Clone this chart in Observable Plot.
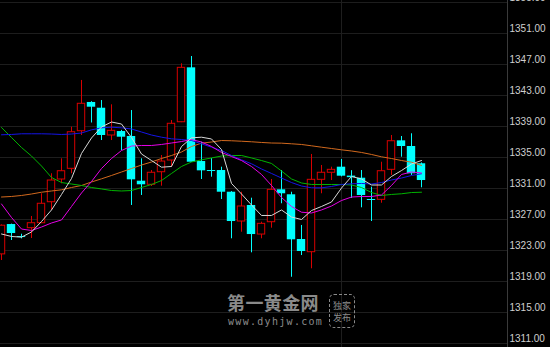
<!DOCTYPE html>
<html><head><meta charset="utf-8">
<script src="https://cdn.jsdelivr.net/npm/d3@7"></script>
<script src="https://cdn.jsdelivr.net/npm/@observablehq/plot@0.6"></script>
<style>
html,body{margin:0;padding:0;background:#000;}
#wrap{position:relative;width:550px;height:347px;overflow:hidden;background:#000;}
.wm{position:absolute;color:#8a8a8a;font-family:"Noto Sans CJK SC",sans-serif;white-space:nowrap;line-height:1;}
</style></head><body><div id="wrap"></div>
<script>
const openP  = [1322.5,1326.35,1324.8,1325.88,1326.52,1329.23,1332.16,1333.54,1338.39,1342.1,1341.36,1337.84,1338.35,1337.71,1331.94,1331.48,1333.1,1334.61,1339.55,1346.57,1334.48,1333.32,1333.32,1330.52,1326.74,1328.81,1325.06,1326.65,1330.83,1330.19,1324.42,1322.78,1332.12,1333.03,1333.75,1332.6,1332.33,1329.58,1329.54,1333.41,1337.15,1336.42,1334.19];
const highP  = [1326.3,1326.4,1325.1,1327.39,1330.32,1332.9,1334.83,1338.91,1344.94,1342.2,1342.35,1341.8,1338.5,1341.06,1334.83,1333.32,1335.26,1339.77,1347.09,1348.03,1336.97,1334.87,1333.75,1330.6,1330.52,1329.75,1326.65,1332.16,1333.32,1330.52,1326.23,1335.39,1333.97,1333.75,1334.74,1333.3,1333.32,1331.17,1334.39,1337.84,1337.71,1338.06,1334.3];
const lowP   = [1321.71,1324.29,1324.5,1324.55,1326.5,1328.16,1331.61,1332.9,1337.84,1339.45,1337.19,1337.19,1335.9,1328.81,1330.1,1331.26,1331.3,1333.75,1339.5,1334.4,1332.16,1332.46,1329.58,1324.51,1325.36,1322.7,1324.51,1325.88,1329.03,1319.55,1322.35,1320.64,1330.32,1332.03,1332.5,1329.71,1328.51,1326.74,1329.1,1332.68,1335.04,1332.68,1331.09];
const closeP = [1326.2,1325.19,1324.8,1326.52,1329.03,1332.03,1333.23,1338.26,1341.93,1341.49,1337.84,1338.44,1337.62,1332.12,1331.48,1333.03,1334.48,1339.35,1346.57,1334.39,1333.28,1333.32,1330.52,1326.74,1328.68,1325.06,1326.44,1330.83,1330.32,1324.38,1322.87,1332.12,1333.03,1333.41,1332.59,1332.4,1330.1,1329.58,1333.23,1337.1,1336.42,1332.9,1332.03];

const maWhite   = [1325.13,1324.81,1324.72,1325.39,1326.74,1328.23,1330.23,1332.29,1335.52,1337.52,1338.94,1339.58,1339.32,1337.58,1335.45,1334.61,1333.75,1333.84,1336.42,1337.54,1337.62,1337.39,1336.03,1331.65,1330.29,1328.87,1327.52,1327.52,1328.23,1327.32,1327.0,1328.16,1328.68,1329.26,1331.06,1332.55,1332.23,1331.45,1331.45,1332.55,1333.32,1334.16,1334.61];
const maMagenta = [1329.0,1327.26,1325.77,1325.58,1326.03,1326.55,1326.94,1328.68,1330.42,1331.9,1333.58,1334.87,1335.9,1336.48,1336.55,1336.55,1336.68,1336.87,1337.06,1337.32,1337.0,1336.42,1335.65,1335.13,1334.61,1333.84,1332.81,1331.39,1329.84,1328.68,1327.94,1327.84,1328.23,1328.74,1329.45,1329.9,1329.97,1329.97,1330.16,1331.39,1332.81,1333.13,1333.0];
const maGreen   = [1338.87,1337.58,1336.29,1335.19,1333.9,1332.42,1331.77,1331.58,1331.39,1331.13,1330.94,1330.74,1330.68,1330.74,1331.13,1331.52,1332.03,1332.94,1333.84,1334.42,1334.7,1334.94,1335.19,1335.26,1335.26,1334.94,1334.61,1334.23,1333.26,1332.23,1331.71,1331.52,1331.52,1331.52,1331.52,1331.45,1331.13,1330.48,1330.1,1330.23,1330.32,1330.48,1330.52];
const maBlue    = [1337.93,1337.97,1338.06,1338.06,1338.06,1338.03,1337.97,1338.03,1338.16,1338.57,1338.83,1338.91,1338.83,1338.68,1338.29,1337.9,1337.62,1337.41,1337.32,1337.19,1336.77,1336.33,1335.9,1335.26,1334.7,1334.19,1333.52,1332.94,1332.35,1331.77,1331.32,1331.09,1331.09,1331.26,1331.52,1331.61,1331.65,1331.58,1331.77,1332.1,1332.35,1332.68,1332.9];
const maOrange  = [1329.9,1329.97,1330.1,1330.29,1330.52,1330.68,1330.83,1331.13,1331.39,1331.84,1332.25,1332.68,1333.13,1333.58,1334.03,1334.42,1334.87,1335.26,1335.71,1336.42,1336.85,1337.0,1337.19,1337.16,1337.1,1337.03,1336.94,1336.87,1336.85,1336.77,1336.68,1336.51,1336.33,1336.16,1335.99,1335.84,1335.65,1335.39,1335.09,1334.87,1334.61,1334.39,1333.97];

const yTicks = [1311,1315,1319,1323,1327,1331,1335,1339,1343,1347,1351,1355];
const sessionBreaks = [34];

const UP = "#d80000", DOWN = "#00ffff";
const candles = openP.map((o, i) => ({i, o, h: highP[i], l: lowP[i], c: closeP[i]}));
const isDoji = d => Math.abs(d.c - d.o) < 0.05;
const upC = candles.filter(d => d.c > d.o && !isDoji(d));
const downC = candles.filter(d => d.c < d.o && !isDoji(d));
const dojiC = candles.filter(isDoji);

const lines = [
  {v: maOrange, color: "#d2691e"},
  {v: maGreen, color: "#00b400"},
  {v: maBlue, color: "#1414e6"},
  {v: maMagenta, color: "#e600e6"},
  {v: maWhite, color: "#d8d8d8"}
];

const chart = Plot.plot({
  width: 550, height: 347,
  marginLeft: 0, marginRight: 43, marginTop: 0, marginBottom: 0,
  style: {background: "#000", color: "#cccccc", fontFamily: "Liberation Sans, Arial, sans-serif", fontSize: "10px", overflow: "hidden"},
  x: {domain: [-0.1, 50.6], axis: null},
  y: {domain: [1310.484, 1355.258]},
  marks: [
    Plot.ruleY(yTicks, {stroke: "#1e1e1e"}),
    Plot.ruleX(sessionBreaks, {stroke: "#1e1e1e"}),
    Plot.ruleX(candles, {x: "i", y1: "l", y2: "h", stroke: d => d.c > d.o ? UP : DOWN, strokeWidth: 1}),
    Plot.rect(downC, {x1: d => d.i - 0.42, x2: d => d.i + 0.42, y1: "o", y2: "c", fill: DOWN}),
    Plot.rect(upC, {x1: d => d.i - 0.37, x2: d => d.i + 0.37, y1: "o", y2: "c", fill: "#000", stroke: UP, strokeWidth: 1}),
    Plot.ruleY(dojiC, {y: "o", x1: d => d.i - 0.42, x2: d => d.i + 0.42, stroke: DOWN}),
    ...lines.map(L => Plot.line(L.v, {x: (d, i) => i, y: d => d, stroke: L.color, strokeWidth: 1})),
    Plot.frame({anchor: "right", stroke: "#3a3a3a"}),
    Plot.axisY(yTicks, {anchor: "right", tickSize: 0, tickPadding: 2, dy: -5, tickFormat: d => d.toFixed(2), fill: "#cfcfcf", fontSize: 10})
  ]
});
const wrap = document.getElementById("wrap");
wrap.appendChild(chart);

const wm = [
  {t: "第一黄金网", x: 227, y: 292.5, s: 18, w: "bold", ls: "0.4px", f: "Noto Sans CJK SC, sans-serif"},
  {t: "www.dyhjw.com", x: 228, y: 316.5, s: 10, w: "normal", ls: "1.3px", f: "DejaVu Sans Mono, monospace"},
];
wm.forEach(o => {
  const el = document.createElement("div");
  el.className = "wm";
  el.textContent = o.t;
  el.style.left = o.x + "px"; el.style.top = o.y + "px";
  el.style.fontSize = o.s + "px"; el.style.fontWeight = o.w; el.style.letterSpacing = o.ls;
  el.style.fontFamily = o.f;
  wrap.appendChild(el);
});
const stamp = document.createElement("div");
stamp.className = "wm";
stamp.style.cssText += "left:329px;top:294px;width:26px;height:34px;box-sizing:border-box;border:1px dashed #8a8a8a;border-radius:5px;font-size:9px;text-align:center;display:flex;flex-direction:column;justify-content:center;gap:3px;";
stamp.innerHTML = "<span>独家</span><span>发布</span>";
wrap.appendChild(stamp);
</script></body></html>
